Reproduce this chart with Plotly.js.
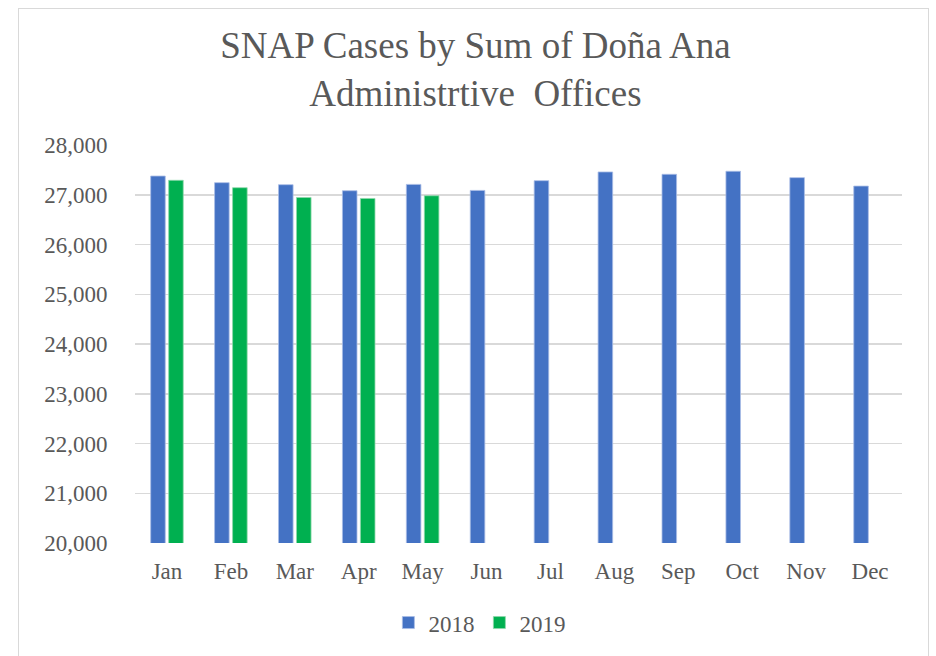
<!DOCTYPE html>
<html>
<head>
<meta charset="utf-8">
<script src="https://cdn.plot.ly/plotly-3.0.1.min.js"></script>
<style>
html,body{margin:0;padding:0;background:#fff;}
#wrap{position:relative;width:936px;height:656px;}
#chart{position:absolute;left:0;top:0;width:936px;height:656px;}
#frame{position:absolute;left:18px;top:8px;width:911px;height:660px;border:1.5px solid #d9d9d9;pointer-events:none;box-sizing:border-box;}
#chart .gtitle, #chart .legendtext, #chart text { font-family: 'Liberation Serif', 'Times New Roman', serif !important; }
</style>
</head>
<body>
<div id="wrap"><div id="chart"></div><div id="frame"></div></div>
<script>
const months = ["Jan","Feb","Mar","Apr","May","Jun","Jul","Aug","Sep","Oct","Nov","Dec"];
const cases2018 = [27376, 27243, 27202, 27081, 27208, 27087, 27283, 27458, 27411, 27472, 27344, 27174];
const cases2019 = [27290, 27142, 26945, 26925, 26980, null, null, null, null, null, null, null];
const yTicks = [20000, 21000, 22000, 23000, 24000, 25000, 26000, 27000, 28000];

const FAM = "Liberation Serif";
const COL = "#595959";

const data = [
  {type: "bar", name: "2018", x: months, y: cases2018, marker: {color: "#4472c4", line: {color: "#a9bde6", width: 0.8}}},
  {type: "bar", name: "2019", x: months, y: cases2019, marker: {color: "#00b050", line: {color: "#8fd8ab", width: 0.8}}}
];

const layout = {
  width: 936, height: 656,
  font: {family: FAM, color: COL, size: 23},
  margin: {l: 135, r: 34, t: 145, b: 113},
  paper_bgcolor: "#fff", plot_bgcolor: "#fff",
  barmode: "group", bargap: 0.437, bargroupgap: 0.19,
  title: {text: "SNAP Cases by Sum of Doña Ana<br>Administrtive  Offices", font: {family: FAM, color: COL, size: 37}, x: 0.508, xanchor: "center", y: 0.912, yanchor: "top"},
  xaxis: {tickfont: {family: FAM, color: COL, size: 23}, showgrid: false, showline: false, ticks: "outside", ticklen: 7, tickcolor: "rgba(0,0,0,0)", fixedrange: true},
  yaxis: {range: [20000, 28000], tickvals: yTicks, ticktext: yTicks.map(v => v.toLocaleString("en-US")), tickfont: {family: FAM, color: COL, size: 23}, gridcolor: "#d9d9d9", gridwidth: 1.5, zeroline: false, showline: false, ticks: "outside", ticklen: 22, tickcolor: "rgba(0,0,0,0)"},
  showlegend: true,
  legend: {orientation: "h", x: 0.449, xanchor: "center", y: -0.2, yanchor: "middle", font: {family: FAM, color: COL, size: 23}, itemwidth: 30}
};

Plotly.newPlot("chart", data, layout, {displayModeBar: false, staticPlot: true});
</script>
</body>
</html>
